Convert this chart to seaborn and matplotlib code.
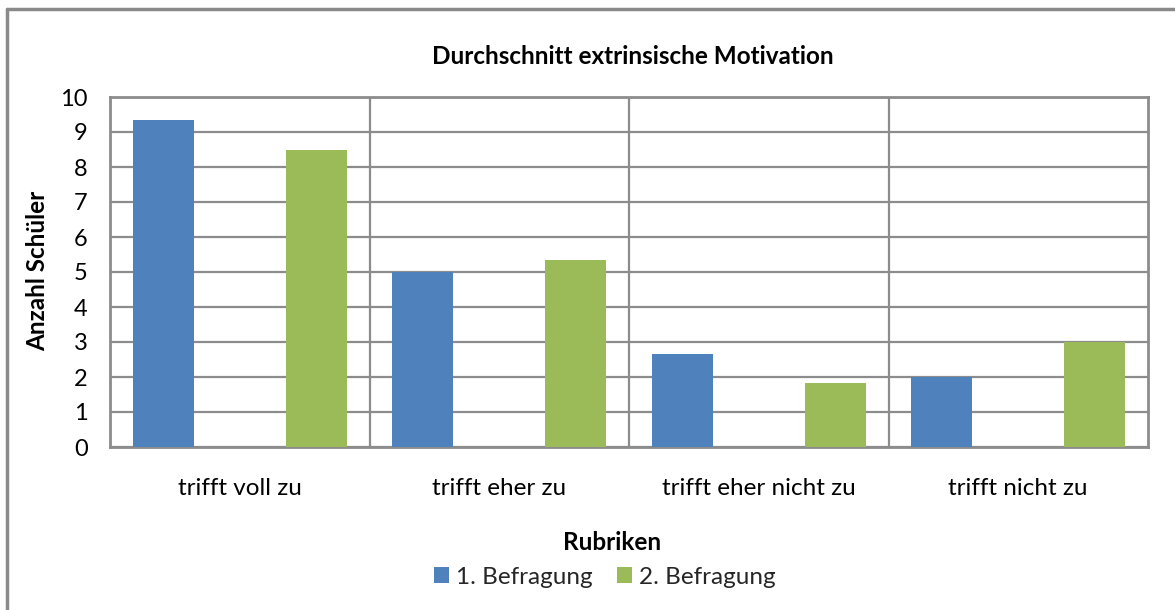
import matplotlib
matplotlib.use("Agg")
import matplotlib.pyplot as plt
import seaborn as sns
import pandas as pd
from matplotlib.patches import Patch
from matplotlib.lines import Line2D

# ---- data ----
categories = ["trifft voll zu", "trifft eher zu", "trifft eher nicht zu", "trifft nicht zu"]
series_names = ["1. Befragung", "2. Befragung"]
befragung_1 = [9.33, 5.0, 2.67, 2.0]
befragung_2 = [8.5, 5.33, 1.83, 3.0]
y_ticks = [0, 1, 2, 3, 4, 5, 6, 7, 8, 9, 10]
title = "Durchschnitt extrinsische Motivation"
x_title = "Rubriken"
y_title = "Anzahl Schüler"
colors = ["#4F81BD", "#9BBB59"]
grid_color = "#8C8C8C"

sns.set_theme(style="white")
plt.rcParams['font.family'] = ['Lato', 'DejaVu Sans']

df = pd.DataFrame({
    "Rubrik": categories * 2,
    "Serie": [series_names[0]] * len(categories) + [series_names[1]] * len(categories),
    "Wert": befragung_1 + befragung_2,
})

FS = 17.5
W, H = 1175, 610
fig = plt.figure(figsize=(W / 100, H / 100), dpi=100)
fig.patch.set_facecolor("white")

ax = fig.add_axes([110 / W, 1 - 447 / H, (1148 - 110) / W, (447 - 97) / H])
sns.barplot(data=df, x="Rubrik", y="Wert", hue="Serie", order=categories,
            hue_order=series_names, palette=colors, saturation=1,
            width=1.18, gap=0.6, ax=ax, legend=False, zorder=3,
            edgecolor="none", linewidth=0)

ax.set_xlim(-0.5, len(categories) - 0.5)
ax.set_ylim(0, 10)
ax.set_yticks(y_ticks)
ax.set_xticks(range(len(categories)))
ax.set_xticklabels(categories, fontsize=FS)
ax.set_xticks([i + 0.5 for i in range(len(categories) - 1)], minor=True)
ax.tick_params(axis="y", length=0, pad=16, labelsize=17, labelcolor="black")
ax.tick_params(axis="x", which="both", length=0, pad=22, labelcolor="black")
ax.yaxis.grid(True, color=grid_color, lw=1.6, zorder=0)
ax.xaxis.grid(True, which="minor", color=grid_color, lw=1.6, zorder=0)
ax.xaxis.grid(False, which="major")
ax.set_axisbelow(True)
for s in ax.spines.values():
    s.set_visible(True)
    s.set_color(grid_color)
    s.set_linewidth(2)
ax.set_xlabel("")
ax.set_ylabel("")

fig.text(633 / W, 1 - 57 / H, title, ha="center", va="center",
         fontsize=FS, fontweight="bold", color="black")
fig.text(38 / W, 1 - 271 / H, y_title, ha="center", va="center", rotation=90,
         fontsize=FS, fontweight="bold", color="black")
fig.text(612 / W, 1 - 543 / H, x_title, ha="center", va="center",
         fontsize=FS, fontweight="bold", color="black")

handles = [Patch(facecolor=c, edgecolor="none") for c in colors]
fig.legend(handles, series_names, loc="center", bbox_to_anchor=(605 / W, 1 - 577 / H),
           ncol=2, frameon=False, fontsize=FS, handlelength=0.6, handleheight=0.6,
           handletextpad=0.3, columnspacing=1.0, borderaxespad=0)

# outer chart border (left and top visible)
fig.add_artist(Line2D([7 / W, 7 / W], [0, 1 - 9 / H], transform=fig.transFigure,
                      color="#8A8A8A", lw=2.5))
fig.add_artist(Line2D([7 / W, 1], [1 - 9 / H, 1 - 9 / H], transform=fig.transFigure,
                      color="#8A8A8A", lw=2.5))

fig.savefig("out.png", dpi=100)
